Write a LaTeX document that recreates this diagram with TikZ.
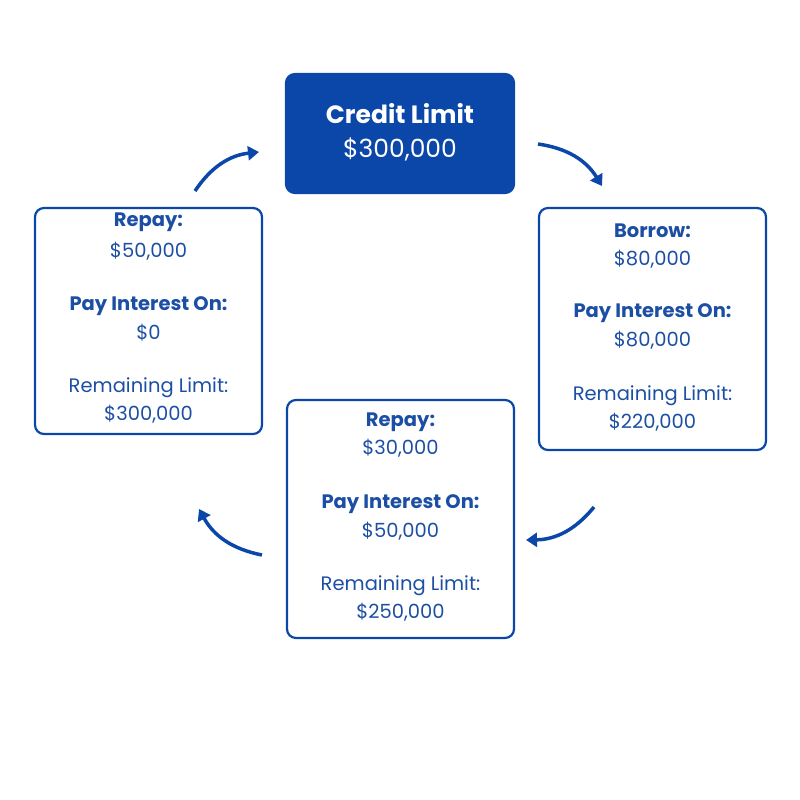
\documentclass[tikz,border=0pt]{standalone}
\usepackage{fontspec}
\setmainfont{Poppins}
\usetikzlibrary{arrows.meta}
\definecolor{cb}{HTML}{0A47A8}
\definecolor{ct}{HTML}{1C4FA3}
\begin{document}
\begin{tikzpicture}[x=1pt,y=-1pt,
  box/.style={draw=cb,line width=2.2pt,rounded corners=9pt},
  hd/.style={text=ct,font=\fontsize{19.5}{22}\selectfont\bfseries},
  tx/.style={text=ct,font=\fontsize{19.5}{22}\selectfont},
  arr/.style={draw=cb,line width=3.5pt,-{Triangle[length=11pt,width=14pt]}}]
\useasboundingbox (0,0) rectangle (800,800);
\node[box,fill=cb,minimum width=228pt,minimum height=119pt] (top) at (400,133.5) {};
\node[text=white,font=\fontsize{25}{28}\selectfont\bfseries] (t1) at (400,114) {Credit Limit};
\node[text=white,font=\fontsize{25}{28}\selectfont] (t2) at (400,149) {\$300,000};
\node[box,minimum width=227pt,minimum height=242pt] (r) at (652.5,329) {};
\node[hd] (r1) at (652.5,231) {Borrow:};
\node[tx] (r2) at (652.5,259) {\$80,000};
\node[hd] (r3) at (652.5,313) {Pay Interest On:};
\node[tx] (r4) at (652.5,340) {\$80,000};
\node[tx] (r5) at (652.5,396) {Remaining Limit:};
\node[tx] (r6) at (652.5,422) {\$220,000};
\node[box,minimum width=227pt,minimum height=238pt] (b) at (400.5,519) {};
\node[hd] (b1) at (400.5,422) {Repay:};
\node[tx] (b2) at (400.5,448) {\$30,000};
\node[hd] (b3) at (400.5,504) {Pay Interest On:};
\node[tx] (b4) at (400.5,531) {\$50,000};
\node[tx] (b5) at (400.5,586) {Remaining Limit:};
\node[tx] (b6) at (400.5,612) {\$250,000};
\node[box,minimum width=227pt,minimum height=226pt] (l) at (148.5,321) {};
\node[hd] (l1) at (148.5,222) {Repay:};
\node[tx] (l2) at (148.5,251) {\$50,000};
\node[hd] (l3) at (148.5,306) {Pay Interest On:};
\node[tx] (l4) at (148.5,333) {\$0};
\node[tx] (l5) at (148.5,388) {Remaining Limit:};
\node[tx] (l6) at (148.5,414) {\$300,000};
\coordinate (a1s) at (195,191); \coordinate (a1e) at (259,152);
\coordinate (a2s) at (538,144); \coordinate (a2e) at (602,186);
\coordinate (a3s) at (594,507); \coordinate (a3e) at (526,540);
\coordinate (a4s) at (262,555); \coordinate (a4e) at (199,509);
\draw[arr] (a1s) to[bend left=25] (a1e);
\draw[arr] (a2s) to[bend left=25] (a2e);
\draw[arr] (a3s) to[bend left=25] (a3e);
\draw[arr] (a4s) to[bend left=25] (a4e);
\end{tikzpicture}
\end{document}
